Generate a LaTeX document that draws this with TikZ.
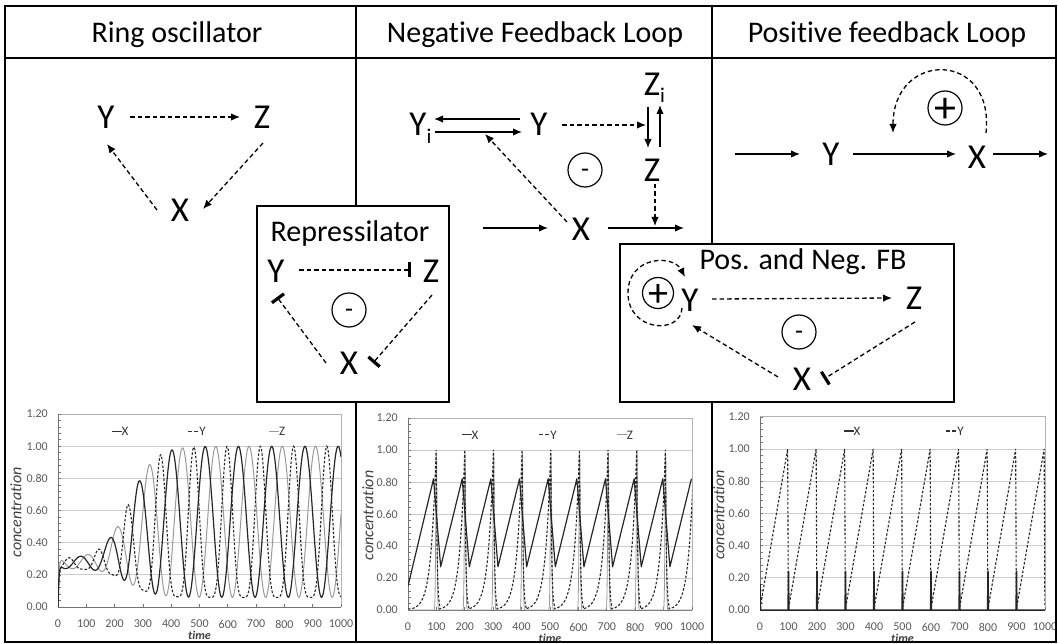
\documentclass[tikz,border=0pt]{standalone}
\usepackage{fontspec}
\setmainfont{Carlito}[Ligatures=NoCommon]
\usetikzlibrary{arrows.meta,calc}
\tikzset{
  myhead/.tip={Latex[length=9pt,width=7.5pt]},
  frameline/.style={line width=2pt},
  titletext/.style={font=\fontsize{30}{36}\selectfont, inner sep=0pt, anchor=base},
  var/.style={font=\fontsize{35}{40}\selectfont, inner sep=0pt, outer sep=0pt, text height=22.5pt, text depth=0pt},
  act/.style={line width=1.3pt, -myhead},
  dact/.style={act, dash pattern=on 4.5pt off 3pt},
  inh/.style={line width=1.3pt, dash pattern=on 4.5pt off 3pt, -{Bar[width=15pt,line width=3.2pt]}},
  signbase/.style={circle, draw, line width=1.2pt, minimum size=34pt, inner sep=0pt, text height=0pt, text depth=0pt},
  minussign/.style={signbase, font=\fontsize{26}{26}\selectfont},
  plussign/.style={signbase, font=\fontsize{44}{44}\selectfont},
  boxframe/.style={line width=2pt, fill=white},
  gridl/.style={black!20, line width=0.7pt},
  borderl/.style={black!30, line width=0.7pt},
  axisl/.style={black!55, line width=0.8pt},
  ticklab/.style={font=\fontsize{12}{14}\selectfont, text=black!65, inner sep=0pt},
  axlab/.style={font=\fontsize{16}{18}\selectfont\itshape, text=black!75, inner sep=0pt},
  timelab/.style={font=\fontsize{12}{14}\selectfont\bfseries\itshape, text=black!75, inner sep=0pt},
  leg/.style={font=\fontsize{13}{15}\selectfont, text=black!80, inner sep=0pt},
  xcurve/.style={black!85, line width=1.2pt, line join=round},
  ycurve/.style={black!85, line width=1.1pt, dash pattern=on 2.5pt off 1.8pt},
  zcurve/.style={black!40, line width=1pt},
  declare function={
    sg(\q)=1/(1+exp(max(min(-(\q-250)/45,9),-9)));
    mxv(\q)=0.30+0.70*sg(\q);
    mnv(\q)=0.24-0.18*sg(\q);
    rr(\q)=1-exp(max(-\q/3,-9));
    hc(\p)=(1+cos(\p))/2;
    phx(\q)=3.064*(\q-520)-0.42*max(285-\q,0);
    phy(\q)=3.064*(\q-480)-0.42*max(250-\q,0);
    phz(\q)=3.064*(\q-440)-0.42*max(215-\q,0);
  }
}
\newcommand{\chartbase}[1]{%
  \foreach \v in {0.2,0.4,0.6,0.8,1.0} \draw[gridl] (0,\v) -- (1000,\v);
  \draw[borderl] (0,1.2) -- (1000,1.2) -- (1000,0);
  \foreach \v in {0,0.04,...,1.21} \draw[axisl,line width=0.6pt] (0,\v) -- ++(3pt,0);
  \draw[axisl] (0,0) -- (0,1.2);
  \draw[axisl] (0,0) -- (1000,0);
  \foreach \tt in {100,200,...,1000} \draw[axisl] (\tt,0) -- ++(0,3pt);
  \foreach \v/\l in {0/0.00,0.2/0.20,0.4/0.40,0.6/0.60,0.8/0.80,1.0/1.00,1.2/1.20}
    \node[ticklab,anchor=east] at ([xshift=-10pt]0,\v) {\l};
  \foreach \tt in {0,100,...,1000} \node[ticklab] at ([yshift=-17pt]\tt,0) {\tt};
  \node[axlab,rotate=90] at ([xshift=#1]0,0.59) {concentration};
  \node[timelab] at ([yshift=-28pt]500,0) {time};
}
\begin{document}
\begin{tikzpicture}[x=1pt,y=-1pt]
\useasboundingbox (0,0) rectangle (1058,644);

% ---------- charts ----------
\begin{scope}[shift={(58,607)}, x=0.283pt, y=160.8pt]
  \chartbase{-42pt}
  \node[leg] (l1x) at (219,1.09) {\rule[0.3em]{10pt}{1.1pt}X};
  \node[leg] (l1y) at (491,1.09) {\rule[0.3em]{4pt}{1.1pt}\hspace{2pt}\rule[0.3em]{4pt}{1.1pt}\hspace{1pt}Y};
  \node[leg] (l1z) at (774,1.09) {\textcolor{black!40}{\rule[0.3em]{10pt}{1.1pt}}Z};
  \begin{scope}
    \clip (0,-0.02) rectangle (1000,1.25);
    \draw[zcurve] plot[domain=0:1000,samples=400] (\x,{rr(\x)*(mnv(\x)+(mxv(\x)-mnv(\x))*hc(phz(\x)))});
    \draw[ycurve] plot[domain=0:1000,samples=400] (\x,{rr(\x)*(mnv(\x)+(mxv(\x)-mnv(\x))*hc(phy(\x))*hc(phy(\x)))});
    \draw[xcurve] plot[domain=0:1000,samples=400] (\x,{rr(\x)*(mnv(\x)+(mxv(\x)-mnv(\x))*hc(phx(\x)))});
  \end{scope}
\end{scope}

\begin{scope}[shift={(408,610)}, x=0.284pt, y=160pt]
  \chartbase{-40pt}
  \node[leg] (l2x) at (218,1.094) {\rule[0.3em]{10pt}{1.1pt}X};
  \node[leg] (l2y) at (493,1.094) {\rule[0.3em]{4pt}{1.1pt}\hspace{2pt}\rule[0.3em]{4pt}{1.1pt}\hspace{1pt}Y};
  \node[leg] (l2z) at (764,1.094) {\textcolor{black!40}{\rule[0.3em]{10pt}{1.1pt}}Z};
  \begin{scope}
    \clip (0,-0.02) rectangle (1000,1.25);
    \draw[zcurve, line width=0.8pt] (0,0) foreach \k [evaluate=\k as \zc using 100+100.9*\k] in {0,...,9}
      { -- plot[domain=\zc-10:\zc+10, samples=31] (\x,{0.98*exp(-(\x-\zc)*(\x-\zc)/10)}) };
    \draw[ycurve] (0,0.007) foreach \k [evaluate=\k as \pk using 99+100.9*\k] in {0,...,9}
      { -- plot[domain=\pk-88:\pk, samples=30] (\x,{exp((\x-\pk)/18)})
        -- plot[domain=\pk:\pk+14, samples=10] (\x,{exp(-(\x-\pk)/3.5)}) };
    \draw[xcurve] (0,0.15) foreach \k [evaluate=\k as \pa using 90+100.9*\k, evaluate=\k as \pb using 115+100.9*\k] in {0,...,8}
      { -- (\pa,0.82) -- (\pb,0.27) } -- (998,0.82);
  \end{scope}
\end{scope}

\begin{scope}[shift={(760,610)}, x=0.285pt, y=161pt]
  \chartbase{-41pt}
  \node[leg] (l3x) at (323,1.11) {\rule[0.3em]{10pt}{1.1pt}X};
  \node[leg] (l3y) at (684,1.11) {\rule[0.3em]{4pt}{1.1pt}\hspace{2pt}\rule[0.3em]{4pt}{1.1pt}\hspace{1pt}Y};
  \begin{scope}
    \clip (0,-0.02) rectangle (1000,1.25);
    \draw[ycurve] (0,0.05) foreach \k [evaluate=\k as \pk using 97+100*\k] in {0,...,9}
      { -- (\pk-95,0.03) -- (\pk,1.0) -- (\pk+2.5,0.02) };
    \draw[xcurve, line width=1.5pt] (0,0.16) -- (2,0) foreach \k in {1,...,9}
      { -- (100*\k-1.5,0) -- (100*\k,0.24) -- (100*\k+1.5,0) } -- (1000,0);
  \end{scope}
\end{scope}

% ---------- frame ----------
\draw[frameline] (5,6) rectangle (1056,642);
\draw[frameline] (5,58) -- (1056,58);
\draw[frameline] (356,6) -- (356,642);
\draw[frameline] (712,6) -- (712,642);

\node[titletext] (t1) at (177,43) {Ring oscillator};
\node[titletext] (t2) at (535,43) {Negative Feedback Loop};
\node[titletext] (t3) at (887,43) {Positive feedback Loop};

% ---------- ring oscillator ----------
\node[var] (Y1) at (106,117) {Y};
\node[var] (Z1) at (262,117) {Z};
\node[var] (X1) at (180,210) {X};
\draw[dact] ($(Y1)+(24,0)$) -- ($(Z1)+(-22,0)$);
\draw[dact] ($(Z1)+(1,26)$) -- ($(X1)+(23,-1)$);
\draw[dact] ($(X1)+(-23,0)$) -- ($(Y1)+(1,27)$);

% ---------- negative feedback loop ----------
\node[var] (Yi) at (418,124) {Y\rlap{\raisebox{-8pt}{\fontsize{21}{21}\selectfont i}}};
\node[var] (Y2) at (539,124) {Y};
\node[var] (Zi) at (652,84) {Z\rlap{\raisebox{-7pt}{\fontsize{21}{21}\selectfont i}}};
\node[var] (Z2) at (652,170) {Z};
\node[var] (X2) at (581,229) {X};
\coordinate (xin) at (483,228);
\coordinate (xout) at (684,228);
\draw[act] ($(Y2)+(-19,-5)$) -- ($(Yi)+(16,-5)$);
\draw[act] ($(Yi)+(17,8)$) -- ($(Y2)+(-17,8)$);
\draw[act] ($(Zi)+(-4,23)$) -- ($(Z2)+(-4,-22)$);
\draw[act] ($(Z2)+(8,-23)$) -- ($(Zi)+(8,21)$);
\draw[act] (xin) -- ($(X2)+(-33,-1)$);
\draw[act] ($(X2)+(27,-1)$) -- (xout);
\coordinate (m1) at ($(Zi)!0.5!(Z2)+(-6,-2)$);
\coordinate (m2) at ($(X2)+(74,-3)$);
\coordinate (m3) at ($(Yi)+(67,10)$);
\draw[dact] ($(Y2)+(23,1)$) -- (m1);
\draw[dact] ($(Z2)+(3,14)$) -- (m2);
\draw[dact] ($(X2)+(-14,-7)$) -- (m3);
\node[minussign] (n2) at (585,170) {\raisebox{-8pt}{-}};

% ---------- positive feedback loop ----------
\node[var] (Y3) at (831,154) {Y};
\node[var] (X3) at (977,157) {X};
\coordinate (pin) at (735,154);
\coordinate (pout) at (1048,154);
\coordinate (fb) at (893,133);
\draw[act] (pin) -- ($(Y3)+(-31,0)$);
\draw[act] ($(Y3)+(22,0)$) -- ($(X3)+(-21,-3)$);
\draw[act] ($(X3)+(16,-3)$) -- (pout);
\draw[dact] ($(X3)+(9,-24)$) .. controls (995,50) and (893,50) .. (fb);
\node[plussign] (p3) at (945,108) {\raisebox{-14.5pt}{+}};

% ---------- repressilator ----------
\draw[boxframe] (257,206) rectangle (449,402);
\node[titletext] (rt) at (350,242) {Repressilator};
\node[var] (Y4) at (276,271) {Y};
\node[var] (Z4) at (431,271) {Z};
\node[var] (X4) at (349,363) {X};
\draw[inh] ($(Y4)+(23,-1)$) -- ($(Z4)+(-20,-1)$);
\draw[inh] ($(Z4)+(1,24)$) -- ($(X4)+(24,0)$);
\draw[inh] ($(X4)+(-23,0)$) -- ($(Y4)+(1,26)$);
\node[minussign] (n4) at (349,310) {\raisebox{-8pt}{-}};

% ---------- positive and negative feedback ----------
\draw[boxframe] (620,244) rectangle (954,402);
\node[titletext] (pt) at (803,270) {Pos. and Neg. FB};
\node[var] (Y5) at (690,300) {Y};
\node[var] (Z5) at (914,298) {Z};
\node[var] (X5) at (802,379) {X};
\node[plussign, minimum size=31pt, font=\fontsize{40}{40}\selectfont] (p5) at (658,293) {\raisebox{-13.2pt}{+}};
\node[minussign] (n5) at (799,332) {\raisebox{-8pt}{-}};
\draw[dact] ($(Y5)+(22,-1)$) -- ($(Z5)+(-22,0)$);
\draw[inh] ($(Z5)+(1,24)$) -- ($(X5)+(22,0)$);
\draw[dact] ($(X5)+(-24,-2)$) -- ($(Y5)+(2,25)$);
\draw[dact] ($(Y5)+(-8,8)$) .. controls (681,335) and (628,332) .. (628,293)
  .. controls (628,256) and (673,254) .. ($(Y5)+(-5,-23)$);
\end{tikzpicture}
\end{document}
